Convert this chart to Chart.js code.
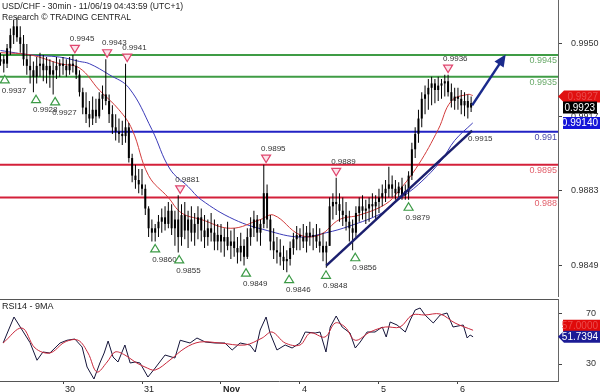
<!DOCTYPE html>
<html>
<head>
<meta charset="utf-8">
<script src="https://cdn.jsdelivr.net/npm/chart.js@4/dist/chart.umd.min.js"></script>
<style>
  html, body { margin: 0; padding: 0; background: #fff; }
  #wrap { position: relative; width: 600px; height: 392px; overflow: hidden; }
  canvas { position: absolute; left: 0; }
  #priceCanvas { top: 0; }
  #rsiCanvas { top: 297px; }
</style>
</head>
<body>
<div id="wrap">
  <canvas id="priceCanvas" width="600" height="297"></canvas>
  <canvas id="rsiCanvas" width="600" height="95"></canvas>
</div>
<script>
const FONT = '"Liberation Sans", Arial, sans-serif';

// hourly candles, hours counted from Oct 29 00:00 with the weekend removed (Nov 4 00:00 = 96)
const firstHour = 5;
const opens = [
  0.9942, 0.9943, 0.9941, 0.9948, 0.9954, 0.9958, 0.9953, 0.9950, 0.9943, 0.9940, 0.9938, 0.9935, 0.9940, 0.9941, 0.9938, 0.9940, 0.9936, 0.9938, 0.9940,
  0.9941, 0.9940, 0.9938, 0.9941, 0.9940, 0.9936, 0.9928, 0.9921, 0.9918, 0.9916, 0.9920, 0.9917, 0.9925, 0.9927, 0.9924, 0.9918, 0.9912, 0.9910, 0.9909, 0.9908, 0.9912, 0.9898, 0.9890, 0.9888,
  0.9886, 0.9884, 0.9875, 0.9866, 0.9864, 0.9866, 0.9869, 0.9871, 0.9868, 0.9874, 0.9866, 0.9870, 0.9862, 0.9872, 0.9865, 0.9870, 0.9864, 0.9868, 0.9871, 0.9865, 0.9862, 0.9866, 0.9864, 0.9860,
  0.9863, 0.9860, 0.9862, 0.9858, 0.9860, 0.9857, 0.9855, 0.9858, 0.9853, 0.9862, 0.9866, 0.9870, 0.9864, 0.9868, 0.9882, 0.9870, 0.9860, 0.9856, 0.9855, 0.9853, 0.9851, 0.9852, 0.9857, 0.9861,
  0.9863, 0.9862, 0.9860, 0.9864, 0.9862, 0.9863, 0.9860, 0.9858, 0.9855, 0.9858, 0.9876, 0.9878, 0.9877, 0.9874, 0.9872, 0.9869, 0.9866, 0.9864, 0.9873, 0.9876, 0.9874, 0.9875, 0.9877, 0.9876,
  0.9878, 0.9880, 0.9882, 0.9884, 0.9886, 0.9884, 0.9882, 0.9885, 0.9881, 0.9883, 0.9890, 0.9902, 0.9909, 0.9916, 0.9925, 0.9927, 0.9930, 0.9932, 0.9929, 0.9931, 0.9932, 0.9933, 0.9928, 0.9924,
  0.9926, 0.9925, 0.9922, 0.9924, 0.9921
];
const highs = [
  0.9946, 0.9945, 0.9950, 0.9957, 0.9961, 0.9962, 0.9958, 0.9954, 0.9950, 0.9945, 0.9942, 0.9944, 0.9946, 0.9945, 0.9944, 0.9943, 0.9942, 0.9944, 0.9943,
  0.9944, 0.9943, 0.9944, 0.9945, 0.9943, 0.9938, 0.9930, 0.9928, 0.9924, 0.9926, 0.9925, 0.9928, 0.9931, 0.9943, 0.9927, 0.9922, 0.9918, 0.9916, 0.9915, 0.9941, 0.9914, 0.9900, 0.9895, 0.9893,
  0.9893, 0.9886, 0.9876, 0.9870, 0.9868, 0.9872, 0.9875, 0.9876, 0.9878, 0.9877, 0.9874, 0.9881, 0.9877, 0.9878, 0.9874, 0.9876, 0.9873, 0.9876, 0.9875, 0.9872, 0.9870, 0.9873, 0.9870, 0.9868,
  0.9868, 0.9866, 0.9869, 0.9865, 0.9866, 0.9862, 0.9864, 0.9861, 0.9866, 0.9871, 0.9874, 0.9872, 0.9870, 0.9895, 0.9886, 0.9872, 0.9866, 0.9862, 0.9861, 0.9858, 0.9856, 0.9860, 0.9864, 0.9867,
  0.9866, 0.9868, 0.9867, 0.9869, 0.9866, 0.9868, 0.9866, 0.9864, 0.9860, 0.9880, 0.9882, 0.9889, 0.9882, 0.9880, 0.9878, 0.9874, 0.9870, 0.9876, 0.9880, 0.9881, 0.9879, 0.9880, 0.9882, 0.9881,
  0.9884, 0.9886, 0.9888, 0.9894, 0.9890, 0.9888, 0.9887, 0.9889, 0.9886, 0.9892, 0.9905, 0.9912, 0.9920, 0.9928, 0.9931, 0.9934, 0.9935, 0.9934, 0.9935, 0.9934, 0.9936, 0.9936, 0.9932, 0.9930,
  0.9930, 0.9929, 0.9928, 0.9927, 0.9926
];
const lows = [
  0.9940, 0.9937, 0.9939, 0.9945, 0.9950, 0.9951, 0.9946, 0.9940, 0.9936, 0.9932, 0.9928, 0.9932, 0.9935, 0.9933, 0.9932, 0.9930, 0.9927, 0.9934, 0.9935,
  0.9936, 0.9935, 0.9936, 0.9937, 0.9934, 0.9926, 0.9918, 0.9914, 0.9912, 0.9913, 0.9914, 0.9916, 0.9920, 0.9922, 0.9914, 0.9909, 0.9906, 0.9905, 0.9904, 0.9905, 0.9896, 0.9887, 0.9884, 0.9882,
  0.9881, 0.9872, 0.9862, 0.9860, 0.9860, 0.9862, 0.9864, 0.9865, 0.9866, 0.9863, 0.9858, 0.9855, 0.9858, 0.9861, 0.9857, 0.9860, 0.9858, 0.9861, 0.9860, 0.9857, 0.9858, 0.9860, 0.9856, 0.9856,
  0.9855, 0.9853, 0.9856, 0.9852, 0.9853, 0.9850, 0.9851, 0.9849, 0.9852, 0.9858, 0.9862, 0.9860, 0.9858, 0.9866, 0.9866, 0.9856, 0.9852, 0.9850, 0.9849, 0.9847, 0.9846, 0.9849, 0.9854, 0.9856,
  0.9856, 0.9857, 0.9855, 0.9858, 0.9856, 0.9857, 0.9855, 0.9851, 0.9848, 0.9858, 0.9870, 0.9872, 0.9869, 0.9867, 0.9865, 0.9860, 0.9856, 0.9862, 0.9869, 0.9870, 0.9868, 0.9869, 0.9871, 0.9870,
  0.9873, 0.9876, 0.9878, 0.9880, 0.9880, 0.9879, 0.9880, 0.9879, 0.9879, 0.9879, 0.9888, 0.9898, 0.9905, 0.9912, 0.9918, 0.9920, 0.9922, 0.9923, 0.9924, 0.9925, 0.9926, 0.9926, 0.9921, 0.9920,
  0.9920, 0.9918, 0.9917, 0.9916, 0.9919
];
const closes = [
  0.9943, 0.9941, 0.9948, 0.9954, 0.9958, 0.9953, 0.9950, 0.9943, 0.9940, 0.9938, 0.9935, 0.9940, 0.9941, 0.9938, 0.9940, 0.9936, 0.9938, 0.9940, 0.9941,
  0.9940, 0.9938, 0.9941, 0.9940, 0.9936, 0.9928, 0.9921, 0.9918, 0.9916, 0.9920, 0.9917, 0.9925, 0.9927, 0.9924, 0.9918, 0.9912, 0.9910, 0.9909, 0.9908, 0.9912, 0.9898, 0.9890, 0.9888, 0.9886,
  0.9884, 0.9875, 0.9866, 0.9864, 0.9866, 0.9869, 0.9871, 0.9868, 0.9874, 0.9866, 0.9870, 0.9862, 0.9872, 0.9865, 0.9870, 0.9864, 0.9868, 0.9871, 0.9865, 0.9862, 0.9866, 0.9864, 0.9860, 0.9863,
  0.9860, 0.9862, 0.9858, 0.9860, 0.9857, 0.9855, 0.9858, 0.9853, 0.9862, 0.9866, 0.9870, 0.9864, 0.9868, 0.9882, 0.9870, 0.9860, 0.9856, 0.9855, 0.9853, 0.9851, 0.9852, 0.9857, 0.9861, 0.9863,
  0.9862, 0.9860, 0.9864, 0.9862, 0.9863, 0.9860, 0.9858, 0.9855, 0.9858, 0.9876, 0.9878, 0.9877, 0.9874, 0.9872, 0.9869, 0.9866, 0.9864, 0.9873, 0.9876, 0.9874, 0.9875, 0.9877, 0.9876, 0.9878,
  0.9880, 0.9882, 0.9884, 0.9886, 0.9884, 0.9882, 0.9885, 0.9881, 0.9883, 0.9890, 0.9902, 0.9909, 0.9916, 0.9925, 0.9927, 0.9930, 0.9932, 0.9929, 0.9931, 0.9932, 0.9933, 0.9928, 0.9924, 0.9926,
  0.9925, 0.9922, 0.9924, 0.9921, 0.9923
];

// moving averages on the price panel
const maRedHours = [5, 14, 23, 29, 35, 41, 45, 50, 56, 60, 66, 75, 84, 88, 96, 102, 108, 114, 122, 126, 132, 138, 142, 147, 148.5];
const maRedValues = [0.9946, 0.9945, 0.9941, 0.9939, 0.9929, 0.9920, 0.9911, 0.9890, 0.9880, 0.9873, 0.9870, 0.9866, 0.9870, 0.9872, 0.9863, 0.9863, 0.9870, 0.9872, 0.9877, 0.9883, 0.9895, 0.9911, 0.9924, 0.9927, 0.99265];
const maBlueHours = [5, 14, 23, 29, 32, 38, 44, 51, 56.5, 62, 66, 76, 86, 96, 104, 111, 121, 126, 132, 139, 143, 148.5];
const maBlueValues = [0.9947, 0.9945, 0.9944, 0.9942, 0.9941, 0.9936, 0.9930, 0.9911, 0.9893, 0.9885, 0.9879, 0.9870, 0.9865, 0.9862, 0.9864, 0.9867, 0.9873, 0.9879, 0.9886, 0.9897, 0.9906, 0.9914];

// support / resistance levels
const levelValues = [0.9945, 0.9935, 0.9910, 0.9895, 0.9880];
const levelLabels = ['0.9945', '0.9935', '0.991', '0.9895', '0.988'];
const levelColors = ['#3f9c45', '#3f9c45', '#2222c4', '#d4203a', '#d4203a'];
const levelTextColors = ['#6aaa6a', '#6aaa6a', '#4a4aa8', '#e2606c', '#e2606c'];

// swing points
const swingLowHours = [6.3, 15.8, 21.6, 52, 59.3, 79.6, 92.7, 103.9, 112.8, 129];
const swingLowValues = [0.9937, 0.9928, 0.9927, 0.9860, 0.9855, 0.9849, 0.9846, 0.9848, 0.9856, 0.9879];
const swingHighHours = [27.6, 37.4, 43.5, 59.6, 85.7, 107, 141];
const swingHighValues = [0.9945, 0.9943, 0.9941, 0.9881, 0.9895, 0.9889, 0.9936];

// trend line and projection arrow
const trendHours = [104, 148.3];
const trendValues = [0.9849, 0.99105];
const trendLabel = '0.9915';
const arrowHours = [148.3, 158];
const arrowValues = [0.9922, 0.9944];

const priceTicks = [0.9849, 0.9883, 0.9917, 0.9950];

// RSI(14) and its 9 period average
const rsiHours = [5.8, 9.1, 11, 14, 16.1, 17.9, 20, 23.1, 25.2, 27.6, 29.8, 31.3, 33.4, 35.2, 36.5, 37.7, 39.2, 40.7, 42.8, 44.4,
  45.9, 47.4, 49.8, 52, 55, 58, 59.6, 62.6, 64.7, 67.2, 70.2, 73.2, 75.4, 77.8, 80.8, 82.4, 83.9, 85.7, 86.9, 89,
  91.5, 93.6, 96, 97.6, 100.6, 102.1, 103.9, 105.2, 107, 108.8, 111.2, 112.8, 114.3, 116.4, 118.8, 121, 122.2, 123.4, 125.5, 128,
  129.5, 131, 132.5, 134, 136.5, 138.6, 140.7, 142.5, 145.6, 146.8, 147.7, 148.6];
const rsiValues = [46.8, 67.6, 59.6, 47, 33, 39.6, 38.8, 46.8, 49, 50, 43.6, 27.6, 18, 30.8, 38.8, 48.4, 35.6, 31.6, 45.2, 30.8,
  31.6, 30.8, 19.6, 26.8, 37.2, 34.8, 49, 46.8, 50.8, 47.6, 46.8, 46.8, 41.2, 46.8, 45.2, 39.6, 57.2, 67.6, 54.8, 41.2,
  45.2, 42.8, 46.8, 55.6, 54.8, 55.6, 39.6, 59.6, 68.4, 59.6, 54.8, 42.8, 47.6, 55.6, 55.6, 59.6, 51.6, 63.6, 61.2, 55.6,
  65.2, 73.2, 74.8, 69.2, 62.8, 69.2, 70.8, 59.6, 61.2, 50.8, 53.2, 51.7394];
const rsiMaHours = [5.8, 11.5, 15.5, 20, 24.6, 28.6, 31.6, 34.3, 37.4, 39.8, 42.8, 45.9, 48.9, 52, 56.5, 61.1, 65.6, 71.7, 79.3, 84.5,
  87.5, 91.5, 96, 99.1, 103.6, 106.7, 109.7, 112.8, 117.3, 121.9, 126.4, 130.1, 134, 138.6, 143.1, 148.6];
const rsiMaValues = [46.8, 58.8, 42.8, 38.8, 47.6, 49, 38.8, 23.6, 31.6, 39.6, 37.2, 31.6, 27.6, 25.2, 33.2, 42.8, 47.6, 46.8, 45.2, 50.8,
  55.6, 46.8, 45.2, 54.8, 51.6, 62.8, 59.6, 49, 55.6, 59.6, 59.6, 69.2, 69.2, 70, 62.8, 57];
const rsiTicks = [30, 70];

const dayTickHours = [24, 48, 72, 96, 120, 144];
const dayTickLabels = ['30', '31', 'Nov', '4', '5', '6'];

const xMin = 4.85, xMax = 174.4;
const priceMin = 0.98347, priceMax = 0.99700;
const rsiMin = 16.4, rsiMax = 82;

const pts = (xs, ys) => xs.map((x, i) => ({ x, y: ys[i] }));

function triangle(ctx, x, y, up, stroke, fill) {
  ctx.beginPath();
  if (up) {
    ctx.moveTo(x, y - 4); ctx.lineTo(x + 4.5, y + 3.5); ctx.lineTo(x - 4.5, y + 3.5);
  } else {
    ctx.moveTo(x - 4.5, y - 3.5); ctx.lineTo(x + 4.5, y - 3.5); ctx.lineTo(x, y + 4);
  }
  ctx.closePath();
  ctx.fillStyle = fill; ctx.fill();
  ctx.lineWidth = 1.2; ctx.strokeStyle = stroke; ctx.stroke();
}

function valueTag(ctx, text, y, left, right, bg, fg, arrow) {
  const h = 12;
  ctx.fillStyle = bg;
  ctx.beginPath();
  if (arrow) { ctx.moveTo(left, y); ctx.lineTo(left + 6, y - h / 2); } else ctx.moveTo(left, y - h / 2);
  ctx.lineTo(right, y - h / 2);
  ctx.lineTo(right, y + h / 2);
  if (arrow) ctx.lineTo(left + 6, y + h / 2); else ctx.lineTo(left, y + h / 2);
  ctx.closePath();
  ctx.fill();
  ctx.fillStyle = fg;
  ctx.font = '10px ' + FONT;
  ctx.textAlign = 'right';
  ctx.textBaseline = 'middle';
  ctx.fillText(text, right - 2, y + 0.5);
}

const priceOverlay = {
  id: 'priceOverlay',
  afterDraw(chart) {
    const { ctx, chartArea } = chart;
    const xs = chart.scales.x, ys = chart.scales.y;
    ctx.save();

    ctx.font = '8.6px ' + FONT;
    ctx.fillStyle = '#222';
    ctx.textAlign = 'left';
    ctx.textBaseline = 'alphabetic';
    ctx.fillText('USD/CHF - 30min - 11/06/19 04:43:59 (UTC+1)', 2, 9);
    ctx.fillText('Research \u00A9 TRADING CENTRAL', 2, 20);

    // level captions
    ctx.font = '9px ' + FONT;
    ctx.textAlign = 'right';
    ctx.textBaseline = 'middle';
    levelValues.forEach((v, i) => {
      ctx.fillStyle = levelTextColors[i];
      ctx.fillText(levelLabels[i], chartArea.right - 1, ys.getPixelForValue(v) + 6);
    });

    // swing markers
    ctx.font = '8px ' + FONT;
    ctx.textAlign = 'left';
    swingLowHours.forEach((h, i) => {
      const px = xs.getPixelForValue(h);
      const py = ys.getPixelForValue(swingLowValues[i]) + 7;
      triangle(ctx, px, py, true, '#3c9a46', '#ffffff');
      ctx.fillStyle = '#333';
      ctx.fillText(swingLowValues[i].toFixed(4), px - 3, py + 11);
    });
    swingHighHours.forEach((h, i) => {
      const px = xs.getPixelForValue(h);
      const py = ys.getPixelForValue(swingHighValues[i]) - 6;
      triangle(ctx, px, py, false, '#e0456e', '#fbe3ea');
      ctx.fillStyle = '#333';
      ctx.fillText(swingHighValues[i].toFixed(4), px - 5, py - 10);
    });

    // trend line caption
    const tx = xs.getPixelForValue(trendHours[1]);
    const ty = ys.getPixelForValue(trendValues[1]);
    ctx.fillStyle = '#333';
    ctx.fillText(trendLabel, tx - 4, ty + 8);

    // arrow head
    const arrowMeta = chart.getDatasetMeta(chart.data.datasets.length - 1).data;
    const p0 = arrowMeta[0], p1 = arrowMeta[1];
    const ang = Math.atan2(p1.y - p0.y, p1.x - p0.x);
    const tipX = p1.x + Math.cos(ang) * 3, tipY = p1.y + Math.sin(ang) * 3;
    const bx = tipX - Math.cos(ang) * 12, by = tipY - Math.sin(ang) * 12;
    ctx.beginPath();
    ctx.moveTo(tipX, tipY);
    ctx.lineTo(bx + Math.sin(ang) * 5.5, by - Math.cos(ang) * 5.5);
    ctx.lineTo(bx - Math.sin(ang) * 5.5, by + Math.cos(ang) * 5.5);
    ctx.closePath();
    ctx.fillStyle = '#1a2a8c';
    ctx.fill();

    // last value tags on the price axis
    const redY = ys.getPixelForValue(maRedValues[maRedValues.length - 1]) + 1;
    const lastClose = closes[closes.length - 1];
    const closeY = Math.max(ys.getPixelForValue(lastClose), redY + 11);
    const blueY = ys.getPixelForValue(maBlueValues[maBlueValues.length - 1]);
    valueTag(ctx, maRedValues[maRedValues.length - 1].toFixed(4), redY, chartArea.right, 600, '#e01010', '#ea4c4c', true);
    valueTag(ctx, lastClose.toFixed(4), closeY, chartArea.right + 5, 597, '#000', '#fff', false);
    valueTag(ctx, maBlueValues[maBlueValues.length - 1].toFixed(5), blueY, chartArea.right + 5, 600, '#1414d8', '#fff', false);
    ctx.restore();
  }
};

const rsiOverlay = {
  id: 'rsiOverlay',
  afterDraw(chart) {
    const { ctx, chartArea } = chart;
    const ys = chart.scales.y;
    ctx.save();
    ctx.strokeStyle = '#555';
    ctx.lineWidth = 1;
    ctx.beginPath();
    ctx.moveTo(chartArea.left, chartArea.top + 0.5);
    ctx.lineTo(chartArea.right, chartArea.top + 0.5);
    ctx.stroke();

    ctx.font = '9px ' + FONT;
    ctx.fillStyle = '#222';
    ctx.textAlign = 'left';
    ctx.textBaseline = 'alphabetic';
    ctx.fillText('RSI14 - 9MA', 2, 12);

    const lastRsi = rsiValues[rsiValues.length - 1];
    const lastMa = rsiMaValues[rsiMaValues.length - 1];
    const blueY = ys.getPixelForValue(lastRsi);
    const redY = Math.min(ys.getPixelForValue(lastMa), blueY - 11);
    valueTag(ctx, lastMa.toFixed(4), redY, chartArea.right + 5, 600, '#e00a0a', '#ea4c4c', false);
    valueTag(ctx, lastRsi.toFixed(4), blueY, chartArea.right, 600, '#1c1c96', '#fff', true);
    ctx.restore();
  }
};

new Chart(document.getElementById('priceCanvas'), {
  type: 'line',
  data: {
    datasets: [
      ...levelValues.map((v, i) => ({
        data: [{ x: xMin, y: v }, { x: xMax, y: v }],
        borderColor: levelColors[i], borderWidth: 2, pointRadius: 0, order: 9
      })),
      { data: pts(maBlueHours, maBlueValues), borderColor: '#3b3bb8', borderWidth: 1, pointRadius: 0, tension: 0.4, order: 6 },
      { data: pts(maRedHours, maRedValues), borderColor: '#d23c3c', borderWidth: 1, pointRadius: 0, tension: 0.4, order: 5 },
      {
        type: 'bar',
        data: highs.map((h, i) => ({ x: firstHour + i, y: [lows[i], h] })),
        backgroundColor: '#000', barThickness: 1, maxBarThickness: 1, grouped: false, inflateAmount: 0, order: 4
      },
      {
        type: 'bar',
        data: opens.map((o, i) => ({ x: firstHour + i, y: [Math.min(o, closes[i]), Math.max(o, closes[i])] })),
        backgroundColor: '#000', barThickness: 2, maxBarThickness: 2, minBarLength: 1, grouped: false, inflateAmount: 0, order: 3
      },
      { data: pts(trendHours, trendValues), borderColor: '#1b1f6e', borderWidth: 2.5, pointRadius: 0, order: 1 },
      { data: pts(arrowHours, arrowValues), borderColor: '#1a2a8c', borderWidth: 2.5, pointRadius: 0, order: 0 }
    ]
  },
  options: {
    responsive: false,
    animation: false,
    events: [],
    layout: { padding: 0 },
    plugins: { legend: { display: false }, tooltip: { enabled: false } },
    scales: {
      x: { type: 'linear', display: false, min: xMin, max: xMax, offset: false },
      y: {
        position: 'right',
        min: priceMin,
        max: priceMax,
        afterBuildTicks: s => { s.ticks = priceTicks.map(v => ({ value: v })); },
        afterFit: s => { s.width = 42; s.paddingTop = 0; s.paddingBottom = 0; },
        ticks: { padding: 9, font: { size: 9, family: FONT }, color: '#333', callback: v => v.toFixed(4) },
        grid: { drawOnChartArea: false, tickLength: 4, color: '#444' },
        border: { color: '#666' }
      }
    }
  },
  plugins: [priceOverlay]
});

new Chart(document.getElementById('rsiCanvas'), {
  type: 'line',
  data: {
    datasets: [
      { data: pts(rsiMaHours, rsiMaValues), borderColor: '#c8283c', borderWidth: 1, pointRadius: 0, tension: 0.35 },
      { data: pts(rsiHours, rsiValues), borderColor: '#15153a', borderWidth: 1, pointRadius: 0, tension: 0 }
    ]
  },
  options: {
    responsive: false,
    animation: false,
    events: [],
    layout: { padding: { top: 2, left: 0, right: 0, bottom: 0 } },
    plugins: { legend: { display: false }, tooltip: { enabled: false } },
    scales: {
      x: {
        type: 'linear',
        min: xMin,
        max: xMax,
        offset: false,
        afterBuildTicks: s => { s.ticks = dayTickHours.map(v => ({ value: v })); },
        afterFit: s => { s.height = 11; s.paddingLeft = 0; s.paddingRight = 0; },
        ticks: {
          autoSkip: false,
          maxRotation: 0,
          align: 'start',
          labelOffset: 2,
          padding: 0,
          color: '#222',
          font: ctx => ({ size: 9, family: FONT, weight: ctx.index === 2 ? 'bold' : 'normal' }),
          callback: (v, i) => dayTickLabels[i]
        },
        grid: { drawOnChartArea: false, tickLength: 3, color: '#444' },
        border: { color: '#555' }
      },
      y: {
        position: 'right',
        min: rsiMin,
        max: rsiMax,
        afterBuildTicks: s => { s.ticks = rsiTicks.map(v => ({ value: v })); },
        afterFit: s => { s.width = 42; s.paddingTop = 0; s.paddingBottom = 0; },
        ticks: { padding: 24, font: { size: 9, family: FONT }, color: '#333' },
        grid: { drawOnChartArea: false, tickLength: 4, color: '#444' },
        border: { color: '#666' }
      }
    }
  },
  plugins: [rsiOverlay]
});
</script>
</body>
</html>
